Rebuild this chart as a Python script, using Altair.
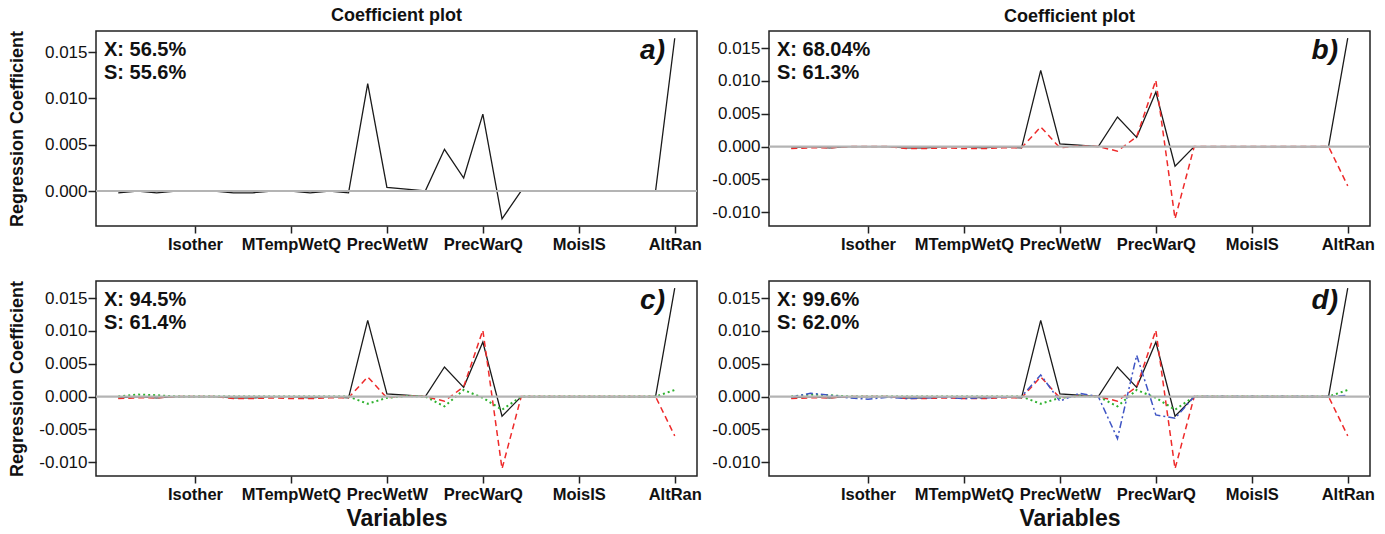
import altair as alt
import pandas as pd

# ---------------- data ----------------
x_index = list(range(1, 31))
tick_values = [5, 10, 15, 20, 25, 30]
tick_names = ["Isother", "MTempWetQ", "PrecWetW", "PrecWarQ", "MoisIS", "AltRan"]

comp1 = [-0.0002, 0.0, -0.0002, 0.0, 0.0, 0.0, -0.0002, -0.0002, 0.0, 0.0,
         -0.0002, 0.0, -0.0002, 0.0116, 0.0004, 0.0002, 0.0, 0.0045, 0.0014, 0.0083,
         -0.0030, 0.0, 0.0, 0.0, 0.0, 0.0, 0.0, 0.0, 0.0, 0.0165]
comp2 = [-0.0003, -0.0002, -0.0002, 0.0, 0.0, 0.0, -0.0003, -0.0003, -0.0002, -0.0003,
         -0.0003, -0.0002, -0.0002, 0.0030, -0.0002, 0.0001, 0.0, -0.0007, 0.0015, 0.0101,
         -0.0110, 0.0, 0.0, 0.0, 0.0, 0.0, 0.0, 0.0, 0.0, -0.0060]
comp3 = [0.0, 0.0003, 0.0002, 0.0, 0.0, 0.0, 0.0, 0.0, 0.0, 0.0,
         0.0, 0.0, 0.0, -0.0011, -0.0002, 0.0001, 0.0, -0.0015, 0.0010, -0.0002,
         -0.0020, 0.0, 0.0, 0.0, 0.0, 0.0, 0.0, 0.0, 0.0, 0.0010]
comp4 = [-0.0001, 0.0005, 0.0002, -0.0002, -0.0004, -0.0001, -0.0003, -0.0002, -0.0001, -0.0003,
         -0.0002, -0.0001, 0.0, 0.0033, -0.0007, 0.0005, 0.0, -0.0064, 0.0063, -0.0028,
         -0.0033, 0.0, 0.0, 0.0, 0.0, 0.0, 0.0, 0.0, 0.0, 0.0002]

panel_letters = ["a)", "b)", "c)", "d)"]
panel_xvar = ["X: 56.5%", "X: 68.04%", "X: 94.5%", "X: 99.6%"]
panel_svar = ["S: 55.6%", "S: 61.3%", "S: 61.4%", "S: 62.0%"]
panel_ncomp = [1, 2, 3, 4]

ticks_y_a = [0.0, 0.005, 0.010, 0.015]
ticks_y_all = [-0.010, -0.005, 0.0, 0.005, 0.010, 0.015]

# ---------------- styling ----------------
FONT = "Liberation Sans"
W, H = 601, 195
series = [
    (comp1, "#1a1a1a", None, 1.3),
    (comp2, "#ee2a2a", [6, 4], 1.5),
    (comp3, "#2db12d", [2, 3], 2.0),
    (comp4, "#3f55c4", [7, 3, 2, 3], 1.5),
]

label_expr = ""
for v, n in zip(tick_values, tick_names):
    label_expr += f"datum.value == {v} ? '{n}' : "
label_expr += "''"

y_label_expr = "(datum.value < 0 ? '-' : '') + format(abs(datum.value), '.3f')"


def expand(lo, hi, f=0.04):
    d = (hi - lo) * f
    return [lo - d, hi + d]


x_domain = expand(min(x_index), max(x_index))


def panel(i):
    n = panel_ncomp[i]
    used = [s[0] for s in series[:n]]
    lo = min(min(s) for s in used)
    hi = max(max(s) for s in used)
    y_domain = expand(lo, hi)
    top = i < 2
    left = i % 2 == 0

    x_axis = alt.Axis(
        values=tick_values, labelExpr=label_expr, title="Variables" if not top else None,
        grid=False, domain=False, ticks=True, tickSize=7, tickColor="#222", tickWidth=1.5,
        labelFont=FONT, labelFontWeight="bold", labelFontSize=16.5, labelColor="#111",
        labelPadding=3, labelFlush=False, labelOverlap=False,
        titleFont=FONT, titleFontWeight="bold", titleFontSize=23, titleColor="#111",
        titlePadding=5,
    )
    y_axis = alt.Axis(
        values=ticks_y_a if i == 0 else ticks_y_all, labelExpr=y_label_expr,
        title="Regression Coefficient" if left else None,
        grid=False, domain=False, tickSize=8, tickColor="#222", tickWidth=1.5,
        labelFont=FONT, labelFontSize=17, labelColor="#111", labelPadding=1,
        titleFont=FONT, titleFontWeight="bold", titleFontSize=18, titleColor="#111",
        titleX=-70, titleY=H / 2,
    )
    xs = alt.X("x:Q", scale=alt.Scale(domain=x_domain, nice=False, zero=False), axis=x_axis)
    ys = alt.Y("v:Q", scale=alt.Scale(domain=y_domain, nice=False, zero=False), axis=y_axis)

    layers = []
    for k in range(n):
        vals, col, dash, sw = series[k]
        df = pd.DataFrame({"x": x_index, "v": vals})
        mk = dict(color=col, strokeWidth=sw, clip=True)
        if dash:
            mk["strokeDash"] = dash
        layers.append(alt.Chart(df).mark_line(**mk).encode(x=xs, y=ys))

    zero = alt.Chart(pd.DataFrame({"v": [0.0]})).mark_rule(color="#b4b4b4", strokeWidth=2.2).encode(y=ys)
    layers.append(zero)

    txt = pd.DataFrame({"t": [panel_xvar[i]]})
    layers.append(alt.Chart(txt).mark_text(
        align="left", baseline="middle", font=FONT, fontWeight="bold", fontSize=20, color="#111"
    ).encode(text="t:N", x=alt.value(8), y=alt.value(19)))
    txt2 = pd.DataFrame({"t": [panel_svar[i]]})
    layers.append(alt.Chart(txt2).mark_text(
        align="left", baseline="middle", font=FONT, fontWeight="bold", fontSize=20, color="#111"
    ).encode(text="t:N", x=alt.value(8), y=alt.value(42)))
    txt3 = pd.DataFrame({"t": [panel_letters[i]]})
    layers.append(alt.Chart(txt3).mark_text(
        align="right", baseline="middle", font=FONT, fontWeight="bold", fontStyle="italic",
        fontSize=28, color="#111"
    ).encode(text="t:N", x=alt.value(W - 32), y=alt.value(20)))

    ch = alt.layer(*layers).properties(width=W, height=H)
    if top:
        ch = ch.properties(title=alt.TitleParams(
            "Coefficient plot", font=FONT, fontSize=18, fontWeight="bold", color="#111",
            anchor="middle", offset=5))
    return ch


chart = alt.concat(
    panel(0), panel(1), panel(2), panel(3), columns=2,
    spacing={"row": 55, "column": 72}, bounds="flush",
).properties(
    padding={"left": 7, "top": 6, "right": 5, "bottom": 5},
    background="white",
).configure_view(
    stroke="#222", strokeWidth=1.5
)

chart.save("out.html", embed_options={"renderer": "svg", "actions": False})
